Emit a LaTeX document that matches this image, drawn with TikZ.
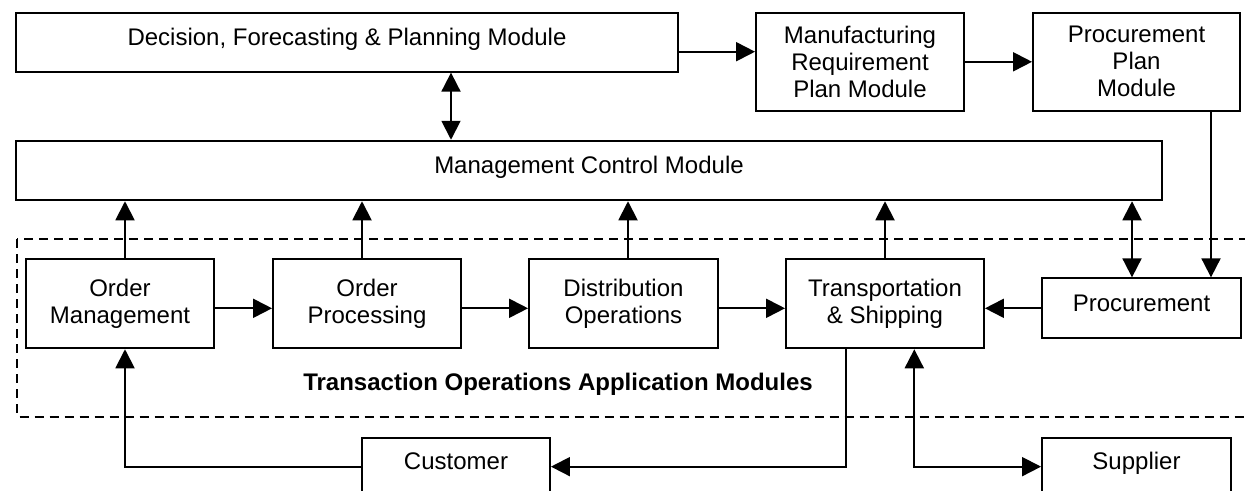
\documentclass[tikz,border=0pt]{standalone}
\usepackage{fontspec}
\setmainfont{Liberation Sans}
\usetikzlibrary{
  arrows.meta,
}
\tikzstyle{module} = [
  draw,
  line width=1.9pt,
  inner sep=0pt,
  align=center,
  font=\fontsize{24}{27}\selectfont,
]
\tikzstyle{oneline} = [text depth=11pt]
\tikzstyle{arrow} = [
  -{Triangle[length=19pt, width=19pt]},
  line width=1.9pt,
]
\tikzstyle{biarrow} = [
  {Triangle[length=19pt, width=19pt]}-{Triangle[length=19pt, width=19pt]},
  line width=1.9pt,
]
\tikzstyle{group} = [dash pattern=on 9pt off 6pt, line width=1.9pt]

\begin{document}
\begin{tikzpicture}[x=1pt, y=-1pt]
      \path[use as bounding box, fill=white] (0, 0) rectangle (1245, 490);
      \clip (0, 0) rectangle (1245, 490);

      % planning level
      \node [module, oneline, minimum width=662pt, minimum height=59pt] (dfp) at (347, 42.2) {Decision, Forecasting \& Planning Module};
      \node [module, minimum width=208pt, minimum height=98pt] (mrp) at (860, 61.8) {Manufacturing\\Requirement\\Plan Module};
      \node [module, minimum width=207pt, minimum height=98pt] (ppm) at (1136.5, 61.8) {Procurement\\Plan\\Module};
      \node [module, oneline, minimum width=1146pt, minimum height=59.6pt] (mcm) at (589, 170.5) {Management Control Module};

      % transaction level
      \draw [group] (17, 239.3) rectangle (1265, 416.7);

      \node [module, minimum width=188pt, minimum height=89pt] (om) at (120, 303.8) {Order\\Management};
      \node [module, minimum width=188pt, minimum height=89pt] (op) at (367, 303.8) {Order\\Processing};
      \node [module, minimum width=189pt, minimum height=89pt] (dop) at (623.5, 303.8) {Distribution\\Operations};
      \node [module, minimum width=198pt, minimum height=89pt] (ts) at (885, 303.8) {Transportation\\\& Shipping};
      \node [module, oneline, minimum width=199pt, minimum height=60pt] (proc) at (1141.5, 308.3) {Procurement};

      \node [font=\fontsize{24}{27}\selectfont\bfseries] (tlabel) at (558, 384) {Transaction Operations Application Modules};

      % outside partners
      \node [module, oneline, anchor=north, minimum width=188pt, minimum height=56.8pt] (cust) at (456, 437.3) {Customer};
      \node [module, oneline, anchor=north, minimum width=189pt, minimum height=56.8pt] (supp) at (1136.5, 437.3) {Supplier};

      \coordinate (plan) at (0, 51.7);
      \coordinate (link) at (451, 0);

      \draw [arrow] (dfp.east |- plan) -- (mrp.west |- plan);
      \draw [arrow] (mrp.east) -- (ppm.west);
      \draw [biarrow] (dfp.south -| link) -- (mcm.north -| link);

      \draw [arrow] ([xshift=5pt]om.north) -- ([xshift=5pt]om.north |- mcm.south);
      \draw [arrow] ([xshift=-5pt]op.north) -- ([xshift=-5pt]op.north |- mcm.south);
      \draw [arrow] ([xshift=4.5pt]dop.north) -- ([xshift=4.5pt]dop.north |- mcm.south);
      \draw [arrow] (ts.north) -- (ts.north |- mcm.south);
      \draw [biarrow] ([xshift=-9.5pt]proc.north) -- ([xshift=-9.5pt]proc.north |- mcm.south);
      \draw [arrow] ([xshift=74.5pt]ppm.south) -- ([xshift=74.5pt]ppm.south |- proc.north);

      \draw [arrow] ([yshift=-4.5pt]om.east) -- ([yshift=-4.5pt]om.east -| op.west);
      \draw [arrow] ([yshift=-4.5pt]op.east) -- ([yshift=-4.5pt]op.east -| dop.west);
      \draw [arrow] ([yshift=-4.5pt]dop.east) -- ([yshift=-4.5pt]dop.east -| ts.west);
      \draw [arrow] (proc.west) -- (proc.west -| ts.east);

      \draw [arrow] (cust.west) -| ([xshift=5pt]om.south);
      \draw [arrow] ([xshift=-39.3pt]ts.south) |- (cust.east);
      \draw [biarrow] ([xshift=29.3pt]ts.south) |- (supp.west);
    \end{tikzpicture}
\end{document}
